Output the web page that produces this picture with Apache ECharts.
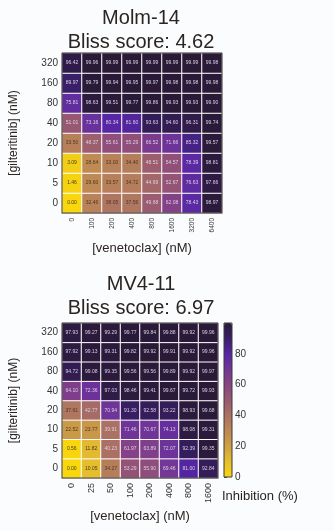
<!DOCTYPE html>
<html>
<head>
<meta charset="utf-8">
<script src="https://cdn.jsdelivr.net/npm/echarts@6/dist/echarts.min.js"></script>
<style>
html,body{margin:0;padding:0;background:#fbfcfe;}
#chart{width:334px;height:531px;}
</style>
</head>
<body>
<div id="chart"></div>
<script>
// Drug concentrations (nM)
const venetoclaxMolm = ['0', '100', '200', '400', '800', '1600', '3200', '6400'];
const venetoclaxMV4 = ['0', '25', '50', '100', '200', '400', '800', '1600'];
const gilteritinib = ['0', '5', '10', '20', '40', '80', '160', '320'];

// % inhibition, one row per gilteritinib dose (0 nM first), columns follow venetoclax doses
const molm14 = [
  [0.00, 32.46, 38.05, 37.56, 49.68, 62.08, 78.43, 98.97],
  [1.46, 29.60, 33.57, 34.72, 44.69, 52.67, 76.63, 97.66],
  [3.09, 28.64, 33.00, 34.40, 48.51, 54.57, 78.39, 98.81],
  [33.50, 48.37, 55.61, 55.29, 66.52, 71.66, 85.32, 99.57],
  [51.01, 73.16, 80.34, 81.60, 93.63, 94.60, 96.31, 99.74],
  [75.81, 98.63, 99.51, 99.77, 99.86, 99.93, 99.93, 99.90],
  [89.97, 99.79, 99.94, 99.95, 99.97, 99.98, 99.98, 99.98],
  [96.42, 99.96, 99.99, 99.99, 99.99, 99.99, 99.99, 99.98]
];
const mv411 = [
  [0.00, 10.05, 34.27, 53.29, 55.90, 69.46, 81.00, 92.84],
  [0.56, 11.82, 40.23, 61.97, 63.89, 72.07, 92.39, 99.35],
  [22.52, 23.77, 39.91, 71.46, 70.67, 74.13, 98.08, 99.31],
  [37.61, 42.77, 70.94, 91.30, 92.58, 93.22, 98.93, 99.68],
  [64.10, 72.36, 97.03, 98.46, 99.41, 99.67, 99.72, 99.93],
  [94.72, 99.08, 99.35, 99.56, 99.56, 99.89, 99.92, 99.97],
  [97.92, 99.13, 99.31, 99.82, 99.92, 99.91, 99.92, 99.96],
  [97.93, 99.27, 99.29, 99.77, 99.84, 99.88, 99.92, 99.96]
];
const titles = ['Molm-14\nBliss score: 4.62', 'MV4-11\nBliss score: 6.97'];
const colorTicks = [0, 20, 40, 60, 80];

const FONT = '"Liberation Sans", Arial, sans-serif';
const TXT = '#2b2522';
const palette = ['#f8d70c', '#e6be2c', '#cfa043', '#bd8855', '#ab7163', '#9a5a70',
                 '#884483', '#723696', '#5726a6', '#391e68', '#2a1a38'];

function cells(matrix) {
  const out = [];
  matrix.forEach((row, yi) => row.forEach((v, xi) => {
    out.push({
      value: [xi, yi, v],
      label: { color: v >= 39 ? '#d9d2e2' : '#4b3a22' }
    });
  }));
  return out;
}

const chart = echarts.init(document.getElementById('chart'), null, { renderer: 'canvas' });

const gridBox = { show: true, z: 10, backgroundColor: 'transparent', borderColor: '#3c3838', borderWidth: 1 };

function xAx(idx, cats, fs, gap) {
  return {
    type: 'category', gridIndex: idx, data: cats,
    axisLine: { show: true, lineStyle: { color: '#3c3838' } },
    axisTick: { show: false },
    axisLabel: { rotate: 90, fontSize: fs, color: '#333', fontFamily: FONT, margin: 5 },
    name: '[venetoclax] (nM)', nameLocation: 'middle', nameGap: gap,
    nameTextStyle: { fontSize: 13, color: TXT, fontFamily: FONT }
  };
}
function yAx(idx) {
  return {
    type: 'category', gridIndex: idx, data: gilteritinib,
    axisLine: { show: true, lineStyle: { color: '#3c3838' } },
    axisTick: { show: false },
    axisLabel: { fontSize: 10, color: '#333', fontFamily: FONT, margin: 4 },
    name: '[gilteritinib] (nM)', nameLocation: 'middle', nameGap: 42, nameRotate: 90,
    nameTextStyle: { fontSize: 12, color: TXT, fontFamily: FONT }
  };
}
function heat(idx, matrix) {
  return {
    type: 'heatmap', xAxisIndex: idx, yAxisIndex: idx,
    data: cells(matrix),
    label: { show: true, fontSize: 5, fontFamily: FONT, formatter: p => p.value[2].toFixed(2) },
    itemStyle: { borderColor: '#ffffff', borderWidth: 1 },
    emphasis: { disabled: true }
  };
}

chart.setOption({
  backgroundColor: '#fbfcfe',
  animation: false,
  title: [
    { text: titles[0], left: 136, top: 1, textAlign: 'center',
      textStyle: { fontSize: 20, fontWeight: 'normal', color: TXT, fontFamily: FONT, lineHeight: 24 } },
    { text: titles[1], left: 136, top: 267, textAlign: 'center',
      textStyle: { fontSize: 20, fontWeight: 'normal', color: TXT, fontFamily: FONT, lineHeight: 24 } }
  ],
  grid: [
    Object.assign({ left: 62, top: 53, width: 160, height: 160 }, gridBox),
    Object.assign({ left: 62, top: 323, width: 156, height: 155 }, gridBox),
    Object.assign({ left: 224, top: 323, width: 8, height: 154 }, gridBox)
  ],
  xAxis: [
    xAx(0, venetoclaxMolm, 6.5, 29),
    xAx(1, venetoclaxMV4, 9, 32),
    { type: 'value', gridIndex: 2, show: false, min: 0, max: 1 }
  ],
  yAxis: [
    yAx(0), yAx(1),
    { type: 'value', gridIndex: 2, position: 'right', min: 0, max: 100, interval: 20,
      splitLine: { show: false },
      axisLine: { show: false },
      axisTick: { show: true, inside: false, length: 3, lineStyle: { color: '#555' } },
      axisLabel: { fontSize: 10, color: '#333', fontFamily: FONT, margin: 3,
        formatter: v => (colorTicks.indexOf(v) >= 0 ? String(v) : '') } }
  ],
  visualMap: {
    type: 'continuous', min: 0, max: 100, seriesIndex: [0, 1],
    calculable: false, realtime: false, text: ['', ''], showLabel: false,
    left: 224, top: 323, itemWidth: 8, itemHeight: 154, padding: 0, itemGap: 0,
    inRange: { color: palette }
  },
  graphic: [
    { type: 'text', left: 222, top: 490,
      style: { text: 'Inhibition (%)', fontSize: 13, fill: TXT, font: '13px ' + FONT } }
  ],
  series: [heat(0, molm14), heat(1, mv411)]
});
</script>
</body>
</html>
